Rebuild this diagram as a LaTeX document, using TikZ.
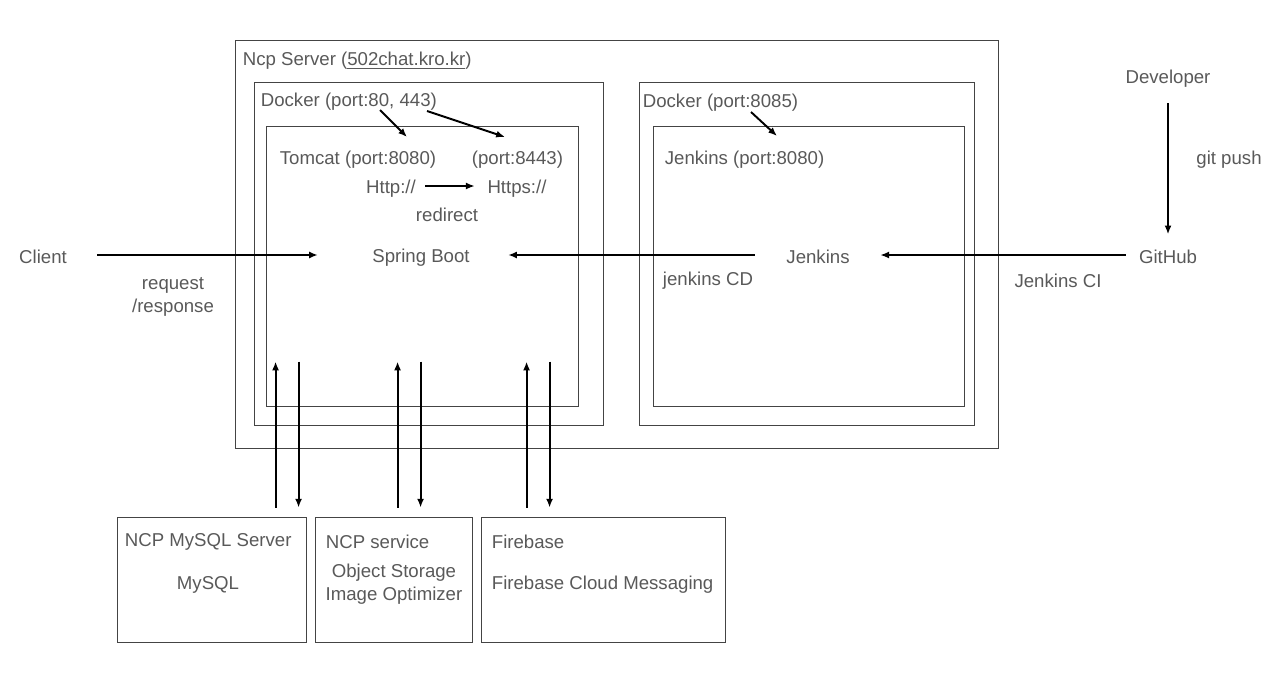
\documentclass[tikz,border=0pt]{standalone}
\usepackage{fontspec}
\setmainfont{Liberation Sans}
\usepackage{tikz}
\usetikzlibrary{fit,arrows.meta}
\definecolor{txtgray}{HTML}{595959}
\definecolor{linegray}{HTML}{444444}
\tikzstyle{frame} = [draw=linegray, line width=0.5pt, rectangle, inner sep=0pt]
\tikzstyle{lbl} = [text=txtgray, font=\fontsize{10.6}{13}\selectfont, inner sep=2pt]
\tikzstyle{arr} = [-{Latex[length=5pt,width=4pt]}, line width=1.1pt, black]

\begin{document}
\begin{tikzpicture}[x=0.02cm, y=-0.02cm]
	\useasboundingbox (0,0) rectangle (1277,673);
	% frames
	\node[frame, fit={(235,40) (998,448)}] (ncpsrv) {};
	\node[frame, fit={(254,82) (603,425)}] (dockerweb) {};
	\node[frame, fit={(266,126) (578,406)}] (tomcatbox) {};
	\node[frame, fit={(639,82) (974,425)}] (dockerci) {};
	\node[frame, fit={(653,126) (964,406)}] (jenkinsbox) {};
	\node[frame, fit={(117,517) (306,642)}] (mysql) {};
	\node[frame, fit={(315,517) (472,642)}] (ncpsvc) {};
	\node[frame, fit={(481,517) (725,642)}] (fire) {};
	% titles
	\node[lbl, anchor=west] (srvtitle) at (239,60.5) {Ncp Server (\underline{502chat.kro.kr})};
	\node[lbl, anchor=west] (dockA) at (257,101.5) {Docker (port:80, 443)};
	\node[lbl, anchor=west] (tomcat) at (276,159.5) {Tomcat (port:8080)};
	\node[lbl, anchor=west] (port8443) at (468,159.5) {(port:8443)};
	\node[lbl] (http) at (391,188.5) {Http://};
	\node[lbl] (https) at (517,188.5) {Https://};
	\node[lbl] (redirect) at (447,214.5) {redirect};
	\node[lbl] (spring) at (421,257.5) {Spring Boot};
	\node[lbl, anchor=west] (dockB) at (639,102.5) {Docker (port:8085)};
	\node[lbl, anchor=west] (jenk) at (661,159.5) {Jenkins (port:8080)};
	\node[lbl] (jenkins) at (818,257) {Jenkins};
	\node[lbl] (jenkcd) at (708,280.5) {jenkins CD};
	\node[lbl] (client) at (43,257) {Client};
	\node[lbl, align=center] (reqres) at (173,297) {request\\/response};
	\node[lbl] (developer) at (1168,78.5) {Developer};
	\node[lbl] (gitpush) at (1229,159.5) {git push};
	\node[lbl] (github) at (1168,257) {GitHub};
	\node[lbl] (jenkci) at (1058,280.5) {Jenkins CI};
	\node[lbl, anchor=west] (mysqltitle) at (121,541.5) {NCP MySQL Server};
	\node[lbl] (mysqldb) at (208,584.5) {MySQL};
	\node[lbl, anchor=west] (ncptitle) at (322,541.5) {NCP service};
	\node[lbl, align=center] (storage) at (394,584.5) {Object Storage\\Image Optimizer};
	\node[lbl, anchor=west] (firetitle) at (488,541.5) {Firebase};
	\node[lbl, anchor=west] (fcm) at (488,584.5) {Firebase Cloud Messaging};
	% arrows
	\draw[arr] ([shift={(123,8.5)}]dockA.west) -- ([shift={(131,-22.5)}]tomcat.west);
	\draw[arr] ([shift={(170,9.5)}]dockA.west) -- ([shift={(37,-22.5)}]port8443.west);
	\draw[arr] ([shift={(112,9.5)}]dockB.west) -- ([shift={(116,-23.5)}]jenk.west);
	\draw[arr] ([shift={(5.5,-2.5)}]http.east) -- ([shift={(-8.9,-2.5)}]https.west);
	\draw[arr] ([shift={(26.5,-2)}]client.east) -- ([shift={(-50.6,-2.5)}]spring.west);
	\draw[arr] ([shift={(-27.8,-2)}]jenkins.west) -- ([shift={(34.6,-2.5)}]spring.east);
	\draw[arr] ([shift={(-9.4,-2)}]github.west) -- ([shift={(26.8,-2)}]jenkins.east);
	\draw[arr, shorten <=0.24cm, shorten >=0.24cm] (developer) -- (github);
	\foreach \b/\u/\d in {mysql/159/182, ncpsvc/83/106, fire/46/69}{
		\draw[arr] ([shift={(\u,-9)}]\b.north west) -- ([shift={(\u,-155)}]\b.north west);
		\draw[arr] ([shift={(\d,-155)}]\b.north west) -- ([shift={(\d,-9)}]\b.north west);
	}
\end{tikzpicture}
\end{document}
